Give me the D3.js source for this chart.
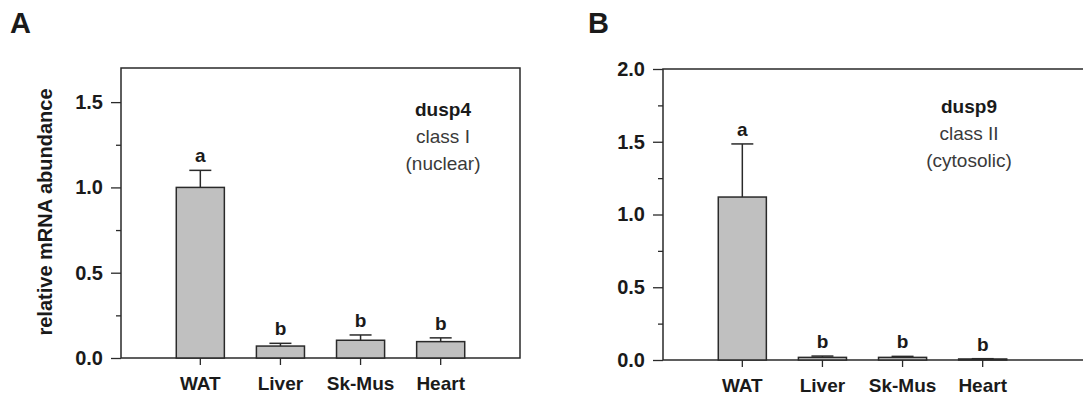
<!DOCTYPE html>
<html>
<head>
<meta charset="utf-8">
<script src="https://cdn.jsdelivr.net/npm/d3@7"></script>
<style>
  body { margin: 0; background: #fff; }
  svg { display: block; }
  text { font-family: "Liberation Sans", Arial, sans-serif; fill: #1a1a1a; }
</style>
</head>
<body>
<div id="chart"></div>
<script>
var svgWidth = 1083;
var svgHeight = 400;

// data
var tissues = ["WAT", "Liver", "Sk-Mus", "Heart"];
var dusp4Mean = [1.0, 0.07, 0.104, 0.096];
var dusp4Err = [0.10, 0.016, 0.031, 0.022];
var dusp4Letters = ["a", "b", "b", "b"];
var dusp9Mean = [1.12, 0.018, 0.018, 0.007];
var dusp9Err = [0.365, 0.009, 0.007, 0.002];
var dusp9Letters = ["a", "b", "b", "b"];
var dusp4Ticks = [0, 0.5, 1.0, 1.5];
var dusp9Ticks = [0, 0.5, 1.0, 1.5, 2.0];

var svg = d3.select("#chart")
  .append("svg")
  .attr("width", svgWidth)
  .attr("height", svgHeight);

function styleText(sel, size) {
  sel.attr("font-size", size)
    .attr("font-weight", "bold")
    .attr("font-family", "Liberation Sans, Arial, sans-serif")
    .attr("fill", "#1a1a1a");
}

function drawPanel(opt) {
  var g = svg.append("g");
  var left = opt.left, top = opt.top, bottom = opt.bottom;

  var y = d3.scaleLinear()
    .domain([0, opt.ymax])
    .range([bottom, top]);

  var x = d3.scaleBand()
    .domain(tissues)
    .range([left, left + 399])
    .paddingInner(0.4)
    .paddingOuter(0.69);

  // frame
  g.append("rect")
    .attr("x", left)
    .attr("y", top)
    .attr("width", opt.frameWidth)
    .attr("height", bottom - top)
    .attr("fill", "none")
    .attr("stroke", "#2a2a2a")
    .attr("stroke-width", 1.5);

  // minor ticks
  var minor = d3.range(0, opt.ymax + 0.001, 0.25).filter(function(v) {
    return opt.ticks.indexOf(v) < 0;
  });
  g.append("g")
    .attr("transform", "translate(" + left + ",0)")
    .call(d3.axisLeft(y).tickValues(minor).tickSize(5).tickFormat(""))
    .call(function(a) {
      a.select(".domain").remove();
      a.selectAll("line").attr("stroke", "#2a2a2a").attr("stroke-width", 1.3);
    });

  // major ticks
  g.append("g")
    .attr("transform", "translate(" + left + ",0)")
    .call(d3.axisLeft(y).tickValues(opt.ticks).tickSize(10).tickPadding(8).tickFormat(d3.format(".1f")))
    .call(function(a) {
      a.select(".domain").remove();
      a.selectAll("line").attr("stroke", "#2a2a2a").attr("stroke-width", 1.3);
      styleText(a.selectAll("text"), 20);
    });

  // x axis
  g.append("g")
    .attr("transform", "translate(0," + bottom + ")")
    .call(d3.axisBottom(x).tickSize(7).tickPadding(12))
    .call(function(a) {
      a.select(".domain").remove();
      a.selectAll("line").attr("stroke", "#2a2a2a").attr("stroke-width", 1.3);
      styleText(a.selectAll("text"), 19);
    });

  var rows = tissues.map(function(t, i) {
    return { name: t, mean: opt.mean[i], err: opt.err[i], letter: opt.letters[i] };
  });

  // error bars (upper only)
  var eb = g.selectAll(".err").data(rows).enter().append("g");
  eb.append("line")
    .attr("x1", function(d) { return x(d.name) + x.bandwidth() / 2; })
    .attr("x2", function(d) { return x(d.name) + x.bandwidth() / 2; })
    .attr("y1", function(d) { return y(d.mean); })
    .attr("y2", function(d) { return y(d.mean + d.err); })
    .attr("stroke", "#2a2a2a")
    .attr("stroke-width", 1.5);
  eb.append("line")
    .attr("x1", function(d) { return x(d.name) + x.bandwidth() / 2 - 11; })
    .attr("x2", function(d) { return x(d.name) + x.bandwidth() / 2 + 11; })
    .attr("y1", function(d) { return y(d.mean + d.err); })
    .attr("y2", function(d) { return y(d.mean + d.err); })
    .attr("stroke", "#2a2a2a")
    .attr("stroke-width", 1.5);

  // bars
  g.selectAll(".bar").data(rows).enter().append("rect")
    .attr("x", function(d) { return x(d.name); })
    .attr("y", function(d) { return y(d.mean); })
    .attr("width", x.bandwidth())
    .attr("height", function(d) { return bottom - y(d.mean); })
    .attr("fill", "#c0c0c0")
    .attr("stroke", "#2a2a2a")
    .attr("stroke-width", 1.5);

  // significance letters
  g.selectAll(".letter").data(rows).enter().append("text")
    .attr("x", function(d) { return x(d.name) + x.bandwidth() / 2; })
    .attr("y", function(d) { return y(d.mean + d.err) - 8; })
    .attr("text-anchor", "middle")
    .attr("font-size", 19)
    .attr("font-weight", "bold")
    .text(function(d) { return d.letter; });

  // annotation
  var ann = g.append("text")
    .attr("text-anchor", "middle")
    .attr("font-size", 19);
  opt.note.forEach(function(line, i) {
    ann.append("tspan")
      .attr("x", opt.noteX)
      .attr("y", opt.noteY + i * 27)
      .attr("font-weight", i === 0 ? "bold" : "normal")
      .attr("fill", i === 0 ? "#1a1a1a" : "#3a3a3a")
      .text(line);
  });

  // panel letter
  g.append("text")
    .attr("x", opt.tagX)
    .attr("y", 33)
    .attr("font-size", 29)
    .attr("font-weight", "bold")
    .attr("fill", "#000")
    .text(opt.tag);
}

drawPanel({
  left: 121, top: 68, bottom: 358, ymax: 1.7, frameWidth: 399,
  ticks: dusp4Ticks, mean: dusp4Mean, err: dusp4Err, letters: dusp4Letters,
  note: ["dusp4", "class I", "(nuclear)"], noteX: 443, noteY: 116,
  tag: "A", tagX: 10
});

drawPanel({
  left: 663, top: 69, bottom: 360, ymax: 2.0, frameWidth: 430,
  ticks: dusp9Ticks, mean: dusp9Mean, err: dusp9Err, letters: dusp9Letters,
  note: ["dusp9", "class II", "(cytosolic)"], noteX: 969, noteY: 113,
  tag: "B", tagX: 588
});

// y axis title (panel A only)
svg.append("text")
  .attr("transform", "translate(52,212) rotate(-90)")
  .attr("text-anchor", "middle")
  .attr("font-size", 20)
  .attr("font-weight", "bold")
  .attr("fill", "#1a1a1a")
  .text("relative mRNA abundance");
</script>
</body>
</html>
